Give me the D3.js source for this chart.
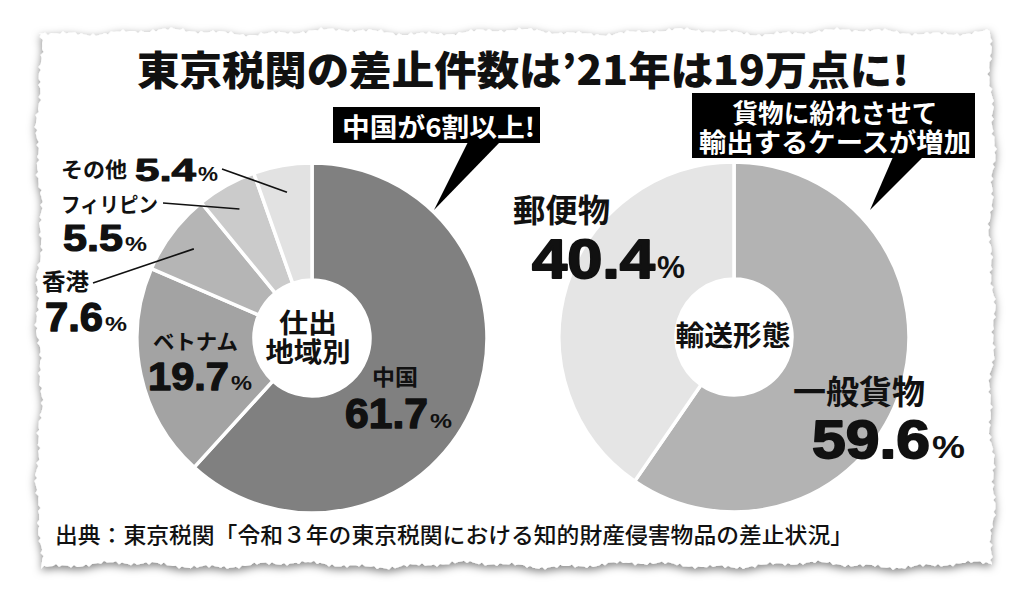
<!DOCTYPE html>
<html><head><meta charset="utf-8">
<script src="https://cdn.jsdelivr.net/npm/d3@7"></script>
<style>
html,body{margin:0;padding:0;background:#fff;}
svg{display:block;}
</style></head><body>
<svg id="c" width="1024" height="602"></svg>
<script>
// ---------- data ----------
const title = "東京税関の差止件数は’21年は19万点に!";
const regionCategories = ["中国","ベトナム","香港","フィリピン","その他"];
const regionValues = [61.7,19.7,7.6,5.5,5.4];
const transportCategories = ["一般貨物","郵便物"];
const transportValues = [59.6,40.4];
const centerLabelLeft = ["仕出","地域別"];
const centerLabelRight = ["輸送形態"];
const callout1 = ["中国が6割以上!"];
const callout2 = ["貨物に紛れさせて","輸出するケースが増加"];
const source = "出典：東京税関「令和３年の東京税関における知的財産侵害物品の差止状況」";

// ---------- styles ----------
const regionColors = ["#808080","#a3a3a3","#b5b5b5","#cbcbcb","#e2e2e2"];
const transportColors = ["#b3b3b3","#e5e5e5"];
const JP = "'Noto Sans CJK JP','Noto Sans',sans-serif";
const NUM = "'Liberation Sans',Arial,sans-serif";

const svg = d3.select("#c");
const defs = svg.append("defs");
const f = defs.append("filter").attr("id","sh").attr("x","-10%").attr("y","-10%").attr("width","120%").attr("height","120%");
f.append("feDropShadow").attr("dx",0).attr("dy",3).attr("stdDeviation",4).attr("flood-color","#000").attr("flood-opacity",0.5);

// torn paper (deterministic jitter)
function tornPath(x0,y0,x1,y1){
  const pts=[]; let i=0;
  const jit = t => 2.2*Math.sin(t*0.11)+1.3*Math.sin(t*0.37+1)+0.9*Math.sin(t*1.9+2)+((t%2)?0.6:-0.6);
  for(let x=x0;x<=x1;x+=3) pts.push([x, y0+jit(i++)]);
  for(let y=y0;y<=y1;y+=3) pts.push([x1+jit(i++), y]);
  for(let x=x1;x>=x0;x-=3) pts.push([x, y1+jit(i++)]);
  for(let y=y1;y>=y0;y-=3) pts.push([x0+jit(i++), y]);
  return "M"+pts.map(p=>p[0].toFixed(1)+","+p[1].toFixed(1)).join("L")+"Z";
}
svg.append("path").attr("d",tornPath(39,32,992,565)).attr("fill","#fff").attr("filter","url(#sh)");

// title
svg.append("text").attr("x",137).attr("y",85).attr("font-family",JP).attr("font-weight",900)
  .attr("font-size",40).attr("textLength",772).attr("lengthAdjust","spacingAndGlyphs")
  .attr("fill","#111").text(title);

// ---------- donuts ----------
const pie = d3.pie().sort(null).value(d=>d);
const R = 175, r0 = 58;
const arc = d3.arc().innerRadius(r0).outerRadius(R);
const lblArc = d3.arc().innerRadius(148).outerRadius(148);

const cxL = 312, cyL = 338, cxR = 734, cyR = 337;
const gL = svg.append("g").attr("transform",`translate(${cxL},${cyL})`);
const arcsL = pie(regionValues);
gL.selectAll("path").data(arcsL).join("path").attr("d",arc)
  .attr("fill",(d,i)=>regionColors[i]).attr("stroke","#fff").attr("stroke-width",3.5);

const gR = svg.append("g").attr("transform",`translate(${cxR},${cyR})`);
const arcsR = pie(transportValues);
gR.selectAll("path").data(arcsR).join("path").attr("d",arc)
  .attr("fill",(d,i)=>transportColors[i]).attr("stroke","#fff").attr("stroke-width",3.5);

// ---------- text helpers ----------
function jp(x,y,txt,size,w,anchor){
  const t = svg.append("text").attr("x",x).attr("y",y).attr("font-family",JP).attr("font-weight",700)
    .attr("font-size",size).attr("fill","#111").text(txt);
  if(anchor) t.attr("text-anchor",anchor);
  if(w) t.attr("textLength",w).attr("lengthAdjust","spacingAndGlyphs");
  return t;
}
// multi-line text as one element with tspans
function jpLines(x,y,lines,size,lh,widths,fill){
  const t = svg.append("text").attr("font-family",JP).attr("font-weight",700)
    .attr("font-size",size).attr("fill",fill||"#111").attr("text-anchor","middle");
  lines.forEach((s,i)=>{
    const ts = t.append("tspan").attr("x",x).attr("y",y+i*lh).text(s);
    if(widths && widths[i]) ts.attr("textLength",widths[i]).attr("lengthAdjust","spacingAndGlyphs");
  });
  return t;
}
function pct(x,y,val,size,w,psize,pw){
  svg.append("text").attr("x",x).attr("y",y).attr("font-family",NUM).attr("font-weight",700)
    .attr("font-size",size).attr("textLength",w).attr("lengthAdjust","spacingAndGlyphs")
    .attr("fill","#111").attr("stroke","#111").attr("stroke-width",size/30).attr("stroke-linejoin","round")
    .text(d3.format(".1f")(val));
  svg.append("text").attr("x",x+w+2).attr("y",y).attr("font-family",NUM).attr("font-weight",700)
    .attr("font-size",psize).attr("textLength",pw).attr("lengthAdjust","spacingAndGlyphs")
    .attr("fill","#111").text("%");
}
function leader(x,y,d,cx,cy){
  const c = lblArc.centroid(d);
  svg.append("line").attr("x1",x).attr("y1",y).attr("x2",cx+c[0]).attr("y2",cy+c[1])
    .attr("stroke","#111").attr("stroke-width",1.6);
}

// left labels
jp(61,177,regionCategories[4],21,66);
pct(135,181,regionValues[4],31,61,21,20);
leader(222,169,arcsL[4],cxL,cyL);

jp(61,212,regionCategories[3],21,97);
pct(63,251,regionValues[3],37,60,21,22);
leader(163,203,arcsL[3],cxL,cyL);

jp(42,290,regionCategories[2],23,47);
pct(45,331,regionValues[2],40,58,21,22);
leader(93,283,arcsL[2],cxL,cyL);

jp(153,349,regionCategories[1],21,85);
pct(148,390,regionValues[1],39,81,21,21);

jp(372,385,regionCategories[0],22,46);
pct(345,428,regionValues[0],43,83,21,22);

jpLines(308,333,centerLabelLeft,27,29,[58,85]);

// right labels
jp(513,222,transportCategories[1],32,97);
pct(532,278,transportValues[1],55,123,31,28);
jp(733,346,centerLabelRight[0],28,115,"middle");
jp(793,404,transportCategories[0],33,132);
pct(812,458,transportValues[0],53,118,31,33);

// ---------- callouts ----------
svg.append("rect").attr("x",333).attr("y",107).attr("width",207).attr("height",36).attr("fill","#000");
svg.append("polygon").attr("points","468,142 500,142 434,210").attr("fill","#000");
svg.append("text").attr("x",342).attr("y",137).attr("font-family",JP).attr("font-weight",700)
  .attr("font-size",26).attr("fill","#fff").attr("textLength",193).attr("lengthAdjust","spacingAndGlyphs").text(callout1[0]);

svg.append("rect").attr("x",692).attr("y",93).attr("width",283).attr("height",65).attr("fill","#000");
svg.append("polygon").attr("points","893,157 923,157 870,210").attr("fill","#000");
jpLines(835,123,callout2,26,29,[205,272],"#fff");

// source
svg.append("text").attr("x",55).attr("y",543).attr("font-family",JP).attr("font-weight",500)
  .attr("font-size",22).attr("fill","#111").attr("textLength",798).attr("lengthAdjust","spacingAndGlyphs").text(source);
</script>
</body></html>
